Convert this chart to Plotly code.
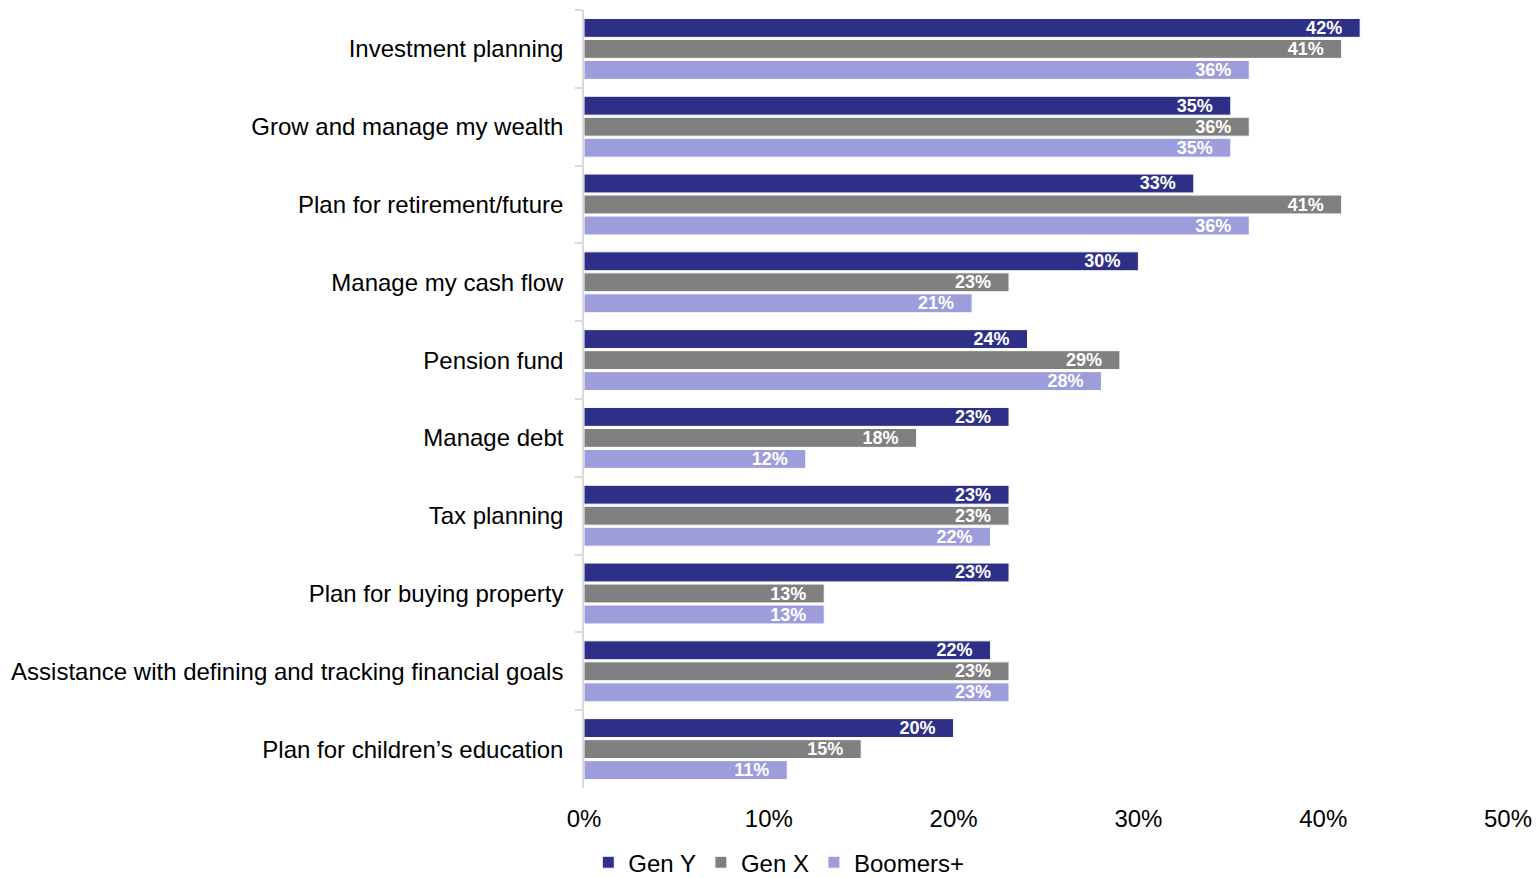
import plotly.graph_objects as go

# Survey categories (top to bottom)
categories = [
    "Investment planning",
    "Grow and manage my wealth",
    "Plan for retirement/future",
    "Manage my cash flow",
    "Pension fund",
    "Manage debt",
    "Tax planning",
    "Plan for buying property",
    "Assistance with defining and tracking financial goals",
    "Plan for children\u2019s education",
]

# Share of respondents (%) per generation
gen_y = [42, 35, 33, 30, 24, 23, 23, 23, 22, 20]
gen_x = [41, 36, 41, 23, 29, 18, 23, 13, 23, 15]
boomers = [36, 35, 36, 21, 28, 12, 22, 13, 23, 11]

x_ticks = [0, 10, 20, 30, 40, 50]
x_tick_labels = ["0%", "10%", "20%", "30%", "40%", "50%"]

series = [
    ("Gen Y", gen_y, "#2E3087"),
    ("Gen X", gen_x, "#808080"),
    ("Boomers+", boomers, "#9D9DDC"),
]

FONT = "Liberation Sans, Arial, sans-serif"
NBSP = "\u00a0"

fig = go.Figure()
for name, values, color in series:
    fig.add_trace(
        go.Bar(
            name=name,
            y=categories,
            x=values,
            orientation="h",
            marker=dict(color=color, line=dict(color="#FFFFFF", width=1)),
            text=[f"{v}%" for v in values],
            texttemplate="<b>%{text}</b>" + NBSP * 3,
            textposition="inside",
            insidetextanchor="end",
            constraintext="none",
            textfont=dict(family=FONT, size=18, color="#FFFFFF"),
            hoverinfo="skip",
        )
    )

fig.update_layout(
    width=1536,
    height=878,
    margin=dict(l=584, r=28, t=10, b=90, autoexpand=False),
    paper_bgcolor="#FFFFFF",
    plot_bgcolor="#FFFFFF",
    barmode="group",
    bargap=0.19,
    bargroupgap=0.1,
    font=dict(family=FONT, size=24, color="#000000"),
    showlegend=True,
    legend=dict(
        orientation="h",
        xref="container",
        yref="container",
        x=0.383,
        xanchor="left",
        y=0.0175,
        yanchor="middle",
        font=dict(family=FONT, size=24, color="#000000"),
        itemwidth=30,
        tracegroupgap=0,
    ),
)

fig.update_xaxes(
    range=[0, 50],
    tickvals=x_ticks,
    ticktext=x_tick_labels,
    showgrid=False,
    zeroline=False,
    showline=False,
    ticks="",
    tickfont=dict(family=FONT, size=24, color="#000000"),
    ticklabelstandoff=14,
)

fig.update_yaxes(
    autorange="reversed",
    showgrid=False,
    showline=True,
    linecolor="#D9D9D9",
    linewidth=1.5,
    ticks="outside",
    tickson="boundaries",
    ticklen=7,
    tickcolor="#D9D9D9",
    tickwidth=1.5,
    tickfont=dict(family=FONT, size=24, color="#000000"),
    ticklabelstandoff=14,
)

fig.write_html("out.html")
